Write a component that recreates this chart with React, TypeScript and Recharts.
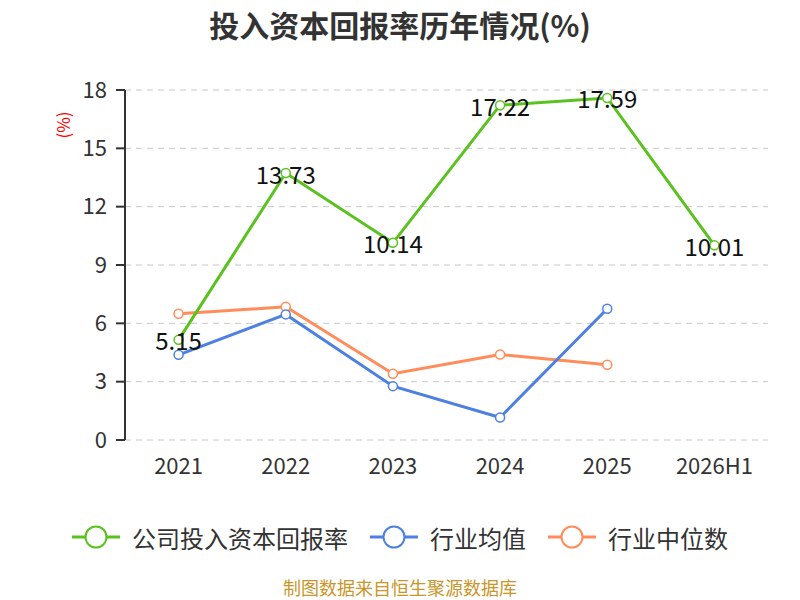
import { LineChart, Line, XAxis, YAxis, CartesianGrid, LabelList } from "recharts";

const YEARS = ["2021", "2022", "2023", "2024", "2025", "2026H1"];
const COMPANY = [5.15, 13.73, 10.14, 17.22, 17.59, 10.01];
const IND_AVG = [4.38, 6.46, 2.77, 1.16, 6.75, null];
const IND_MEDIAN = [6.49, 6.85, 3.41, 4.4, 3.87, null];
const Y_TICKS = [0, 3, 6, 9, 12, 15, 18];

const SERIES = [
  { key: "company", name: "公司投入资本回报率", color: "#5ac21e" },
  { key: "avg", name: "行业均值", color: "#4d80e0" },
  { key: "median", name: "行业中位数", color: "#ff8c5a" },
];

const FONT = '"Noto Sans CJK SC", "Noto Sans", sans-serif';
const TEXT = "#333333";

const data = YEARS.map((y, i) => ({
  x: i + 0.5,
  year: y,
  company: COMPANY[i],
  avg: IND_AVG[i],
  median: IND_MEDIAN[i],
}));

function PointLabel(props: any) {
  const { x, y, value } = props;
  return (
    <text x={x} y={y} textAnchor="middle" dominantBaseline="central" fontSize={24} fill="#111" fontFamily={FONT}>
      {value.toFixed(2)}
    </text>
  );
}

function LegendBox() {
  return (
    <div style={{ display: "flex", justifyContent: "center", gap: 22, fontFamily: FONT, fontSize: 24, color: TEXT, height: 30, alignItems: "center" }}>
      {SERIES.map((s) => (
        <div key={s.key} style={{ display: "flex", alignItems: "center" }}>
          <svg width={48} height={26} style={{ marginRight: 12 }}>
            <line x1={0} y1={13} x2={48} y2={13} stroke={s.color} strokeWidth={3} />
            <circle cx={24} cy={13} r={10.5} fill="#fff" stroke={s.color} strokeWidth={2} />
          </svg>
          <span>{s.name}</span>
        </div>
      ))}
    </div>
  );
}

export default function App() {
  return (
    <div style={{ position: "absolute", left: 0, top: 0, width: 800, height: 600, background: "#fff", overflow: "hidden" }}>
      <div style={{ position: "absolute", top: 2, width: 800, textAlign: "center", fontFamily: FONT, fontWeight: 700, fontSize: 30, color: TEXT }}>
        投入资本回报率历年情况(%)
      </div>
      <LineChart width={800} height={600} data={data} margin={{ top: 90, right: 32, left: 0, bottom: 120 }}>
        <CartesianGrid horizontal vertical={false} stroke="#c8c8c8" strokeDasharray="6 5" />
        <XAxis
          xAxisId="b"
          type="number"
          dataKey="x"
          domain={[0, 6]}
          ticks={[0, 1, 2, 3, 4, 5, 6]}
          tick={false}
          tickSize={9}
          height={0}
          stroke="#333"
          strokeWidth={2}
        />
        <XAxis
          xAxisId="l"
          type="number"
          dataKey="x"
          domain={[0, 6]}
          ticks={data.map((d) => d.x)}
          tickFormatter={(v: number) => YEARS[Math.floor(v)]}
          axisLine={false}
          tickLine={false}
          tickMargin={12}
          height={40}
          tick={{ fill: TEXT, fontSize: 22, fontFamily: FONT }}
        />
        <YAxis
          domain={[0, 18]}
          ticks={Y_TICKS}
          width={125}
          tickSize={9}
          tickMargin={9}
          stroke="#333"
          strokeWidth={2}
          tick={{ fill: TEXT, fontSize: 22, fontFamily: FONT }}
          label={{
            content: () => (
              <text x={62} y={125} transform="rotate(-90 62 125)" textAnchor="middle" dominantBaseline="central" fill="#ff0000" fontSize={17} fontFamily={FONT}>
                (%)
              </text>
            ),
          }}
        />
        <Line xAxisId="b" dataKey="median" name="行业中位数" stroke={SERIES[2].color} strokeWidth={3} dot={{ r: 4.5, fill: "#fff", strokeWidth: 1.5 }} isAnimationActive={false} />
        <Line xAxisId="b" dataKey="avg" name="行业均值" stroke={SERIES[1].color} strokeWidth={3} dot={{ r: 4.5, fill: "#fff", strokeWidth: 1.5 }} isAnimationActive={false} />
        <Line xAxisId="b" dataKey="company" name="公司投入资本回报率" stroke={SERIES[0].color} strokeWidth={3} dot={{ r: 4.5, fill: "#fff", strokeWidth: 1.5 }} isAnimationActive={false}>
          <LabelList dataKey="company" content={<PointLabel />} />
        </Line>
      </LineChart>
      <div style={{ position: "absolute", top: 522, left: 0, width: 800 }}>
        <LegendBox />
      </div>
      <div style={{ position: "absolute", top: 577, width: 800, textAlign: "center", fontFamily: FONT, fontSize: 18, lineHeight: "20px", color: "#c8962a" }}>
        制图数据来自恒生聚源数据库
      </div>
    </div>
  );
}
